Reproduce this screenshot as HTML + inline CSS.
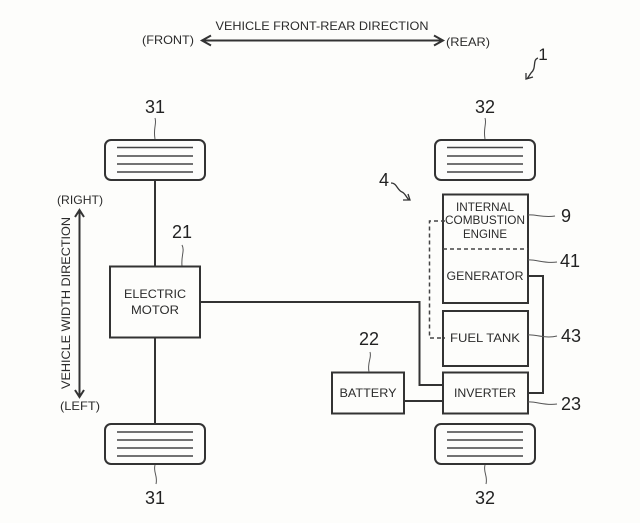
<!DOCTYPE html>
<html>
<head>
<meta charset="utf-8">
<style>
html,body{margin:0;padding:0;background:#fdfdfb;}
svg{display:block;}
text{font-family:"Liberation Sans",sans-serif;fill:#2b2b2b;}
.s{fill:none;stroke:#333;stroke-width:2;}
.t{fill:none;stroke:#444;stroke-width:1.5;}
.l{font-size:12px;text-anchor:middle;}
.n{font-size:18px;text-anchor:middle;fill:#222;}
.d{fill:none;stroke:#444;stroke-width:1.5;stroke-dasharray:4 3;}
.lead{fill:none;stroke:#555;stroke-width:1;}
</style>
</head>
<body>
<svg width="640" height="523" viewBox="0 0 640 523" xmlns="http://www.w3.org/2000/svg">
<rect width="640" height="523" fill="#fdfdfb"/>

<text class="l" x="322" y="30" textLength="213" lengthAdjust="spacingAndGlyphs" fill="#333">VEHICLE FRONT-REAR DIRECTION</text>
<text class="l" x="168" y="44" textLength="52" lengthAdjust="spacingAndGlyphs">(FRONT)</text>
<text class="l" x="468" y="46" textLength="44" lengthAdjust="spacingAndGlyphs">(REAR)</text>
<path class="s" d="M202 40.500H442M211 35.500L202 40.500L211 45.500M434 35.500L443 40.500L434 45.500"/>

<text class="n" x="543" y="60" style="font-size:17px">1</text>
<path class="lead" style="stroke:#333;stroke-width:1.300" d="M538 58C532 60 537 68 531 73L527 79M526 73L526 79L533 77"/>

<text class="n" x="155" y="113">31</text>
<path class="lead" d="M155 118C157 124 153 128 155 139"/>
<rect class="s" x="105" y="140" width="100" height="40" rx="6"/>
<path class="t" d="M117 147.500H193M117 156H193M117 164H193M117 172H193"/>

<path class="s" d="M155 180V266M155 338V423"/>

<text class="n" x="182" y="238">21</text>
<path class="lead" d="M182 245C185 251 181 255 182 266"/>
<rect class="s" x="110" y="266.500" width="90" height="71"/>
<text class="l" x="155" y="298" textLength="62" lengthAdjust="spacingAndGlyphs">ELECTRIC</text>
<text class="l" x="155" y="314" textLength="48" lengthAdjust="spacingAndGlyphs">MOTOR</text>

<rect class="s" x="105" y="424" width="100" height="40" rx="6"/>
<path class="t" d="M117 432H193M117 440H193M117 448H193M117 456H193"/>
<path class="lead" d="M155 465C153 472 158 476 156 484"/>
<text class="n" x="155" y="504">31</text>

<text class="l" x="80" y="204" textLength="46" lengthAdjust="spacingAndGlyphs">(RIGHT)</text>
<text class="l" x="80" y="410" textLength="40" lengthAdjust="spacingAndGlyphs">(LEFT)</text>
<path class="s" d="M79.500 210V397M75 217L79.500 210L84 217M75 390L79.500 397L84 390"/>
<text class="l" transform="translate(70 303) rotate(-90)" textLength="172" lengthAdjust="spacingAndGlyphs">VEHICLE WIDTH DIRECTION</text>

<text class="n" x="485" y="113">32</text>
<path class="lead" d="M485 118C487 124 483 128 485 139"/>
<rect class="s" x="435" y="140" width="100" height="40" rx="6"/>
<path class="t" d="M447 147.500H523M447 156H523M447 164H523M447 172H523"/>

<text class="n" x="384" y="186">4</text>
<path class="lead" style="stroke:#333;stroke-width:1.300" d="M391 183C397 183 397 190 402 192C405 193 406 197 409 200M403 200L410 200L408 194"/>

<rect class="s" x="443" y="194.500" width="85" height="108.500"/>
<path class="d" d="M443 249H528"/>
<text class="l" x="485" y="211" textLength="58" lengthAdjust="spacingAndGlyphs">INTERNAL</text>
<text class="l" x="485" y="224" textLength="80" lengthAdjust="spacingAndGlyphs">COMBUSTION</text>
<text class="l" x="485" y="238" textLength="44" lengthAdjust="spacingAndGlyphs">ENGINE</text>
<text class="l" x="485" y="280" textLength="77" lengthAdjust="spacingAndGlyphs">GENERATOR</text>

<rect class="s" x="443" y="311" width="85" height="55"/>
<text class="l" x="485" y="342" textLength="70" lengthAdjust="spacingAndGlyphs">FUEL TANK</text>

<rect class="s" x="443" y="372.500" width="85" height="41"/>
<text class="l" x="485" y="397" textLength="62" lengthAdjust="spacingAndGlyphs">INVERTER</text>

<rect class="s" x="332" y="372.500" width="72" height="41"/>
<text class="l" x="368" y="397" textLength="57" lengthAdjust="spacingAndGlyphs">BATTERY</text>

<text class="n" x="369" y="345">22</text>
<path class="lead" d="M370 352C372 358 367 362 369 372"/>

<path class="s" d="M200 302H419.500V385H443M404 401H443M528 276H543V393H528"/>
<path class="d" d="M445 221H429.500V338H445"/>

<path class="lead" d="M528 215C535 214 543 218 555 216"/>
<text class="n" x="566" y="222">9</text>
<path class="lead" d="M528 260C535 259 545 264 557 262"/>
<text class="n" x="570" y="267">41</text>
<path class="lead" d="M528 335C535 334 545 339 557 336"/>
<text class="n" x="571" y="342">43</text>
<path class="lead" d="M528 402C535 401 545 406 557 404"/>
<text class="n" x="571" y="410">23</text>

<rect class="s" x="435" y="424" width="100" height="40" rx="6"/>
<path class="t" d="M447 432H523M447 440H523M447 448H523M447 456H523"/>
<path class="lead" d="M485 465C483 472 488 476 486 484"/>
<text class="n" x="485" y="504">32</text>
</svg>
</body>
</html>
